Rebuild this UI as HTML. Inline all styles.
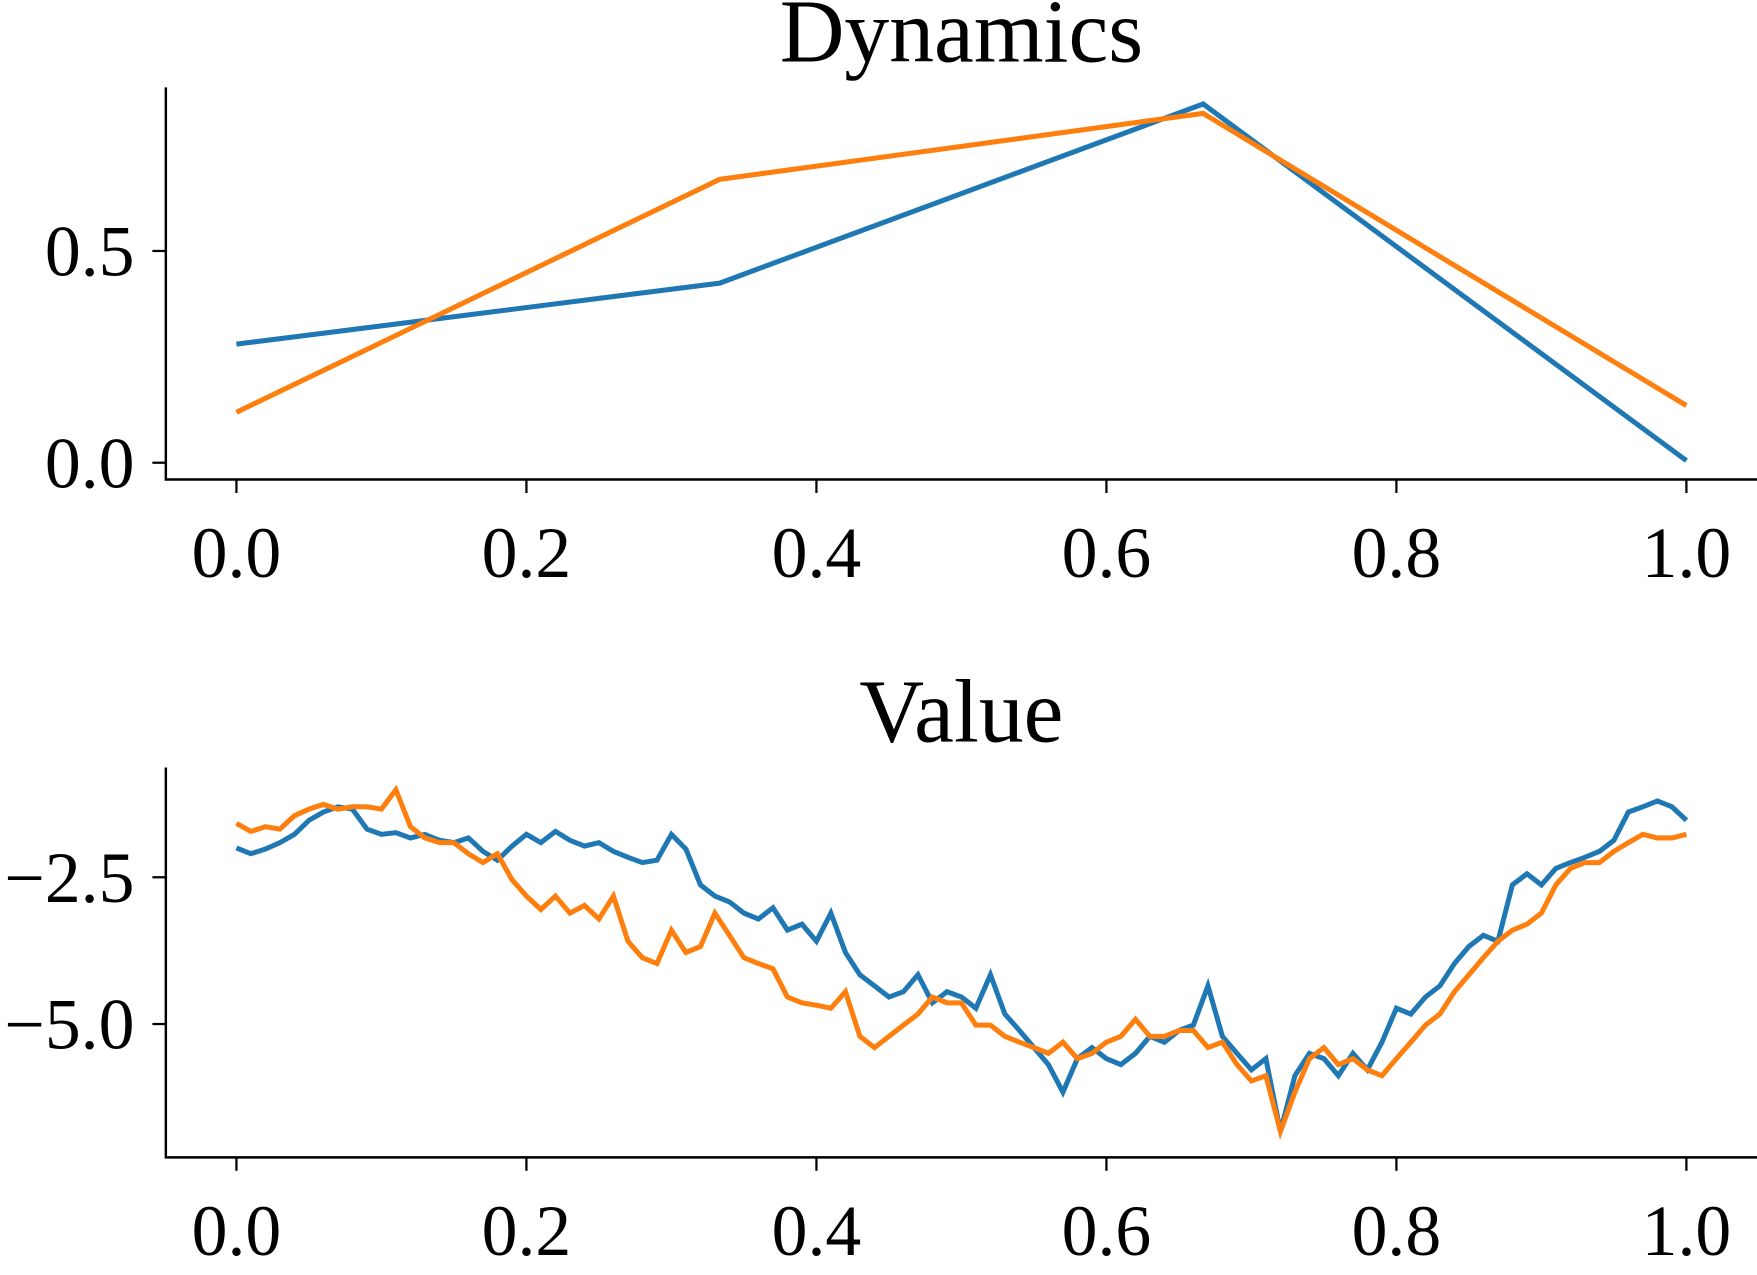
<!DOCTYPE html>
<html><head><meta charset="utf-8"><style>
html,body{margin:0;padding:0;background:#fff;}
svg{display:block;font-family:"Liberation Serif","DejaVu Serif",serif;}
</style></head><body>
<svg id="fig" width="1757" height="1275" viewBox="0 0 1568 1138" preserveAspectRatio="none" xmlns="http://www.w3.org/2000/svg">
<g id="top"></g>
<g id="bot"></g>
</svg>
<script>
const dynX = [0, 1/3, 2/3, 1];
const dynBlue = [0.28, 0.424, 0.847, 0.005];
const dynOrange = [0.119, 0.669, 0.825, 0.135];
const topXTicks = [0, 0.2, 0.4, 0.6, 0.8, 1.0];
const topXLabels = ["0.0","0.2","0.4","0.6","0.8","1.0"];
const topYTicks = [0, 0.5];
const topYLabels = ["0.0","0.5"];
const valBlue = [-2.00,-2.10,-2.02,-1.91,-1.77,-1.53,-1.39,-1.30,-1.34,-1.68,-1.77,-1.74,-1.83,-1.77,-1.87,-1.91,-1.83,-2.06,-2.21,-1.97,-1.77,-1.91,-1.72,-1.87,-1.97,-1.91,-2.06,-2.16,-2.25,-2.21,-1.77,-2.02,-2.63,-2.82,-2.92,-3.11,-3.21,-3.02,-3.40,-3.30,-3.59,-3.11,-3.78,-4.16,-4.35,-4.54,-4.45,-4.16,-4.64,-4.45,-4.54,-4.73,-4.16,-4.83,-5.11,-5.40,-5.69,-6.16,-5.59,-5.40,-5.59,-5.69,-5.50,-5.21,-5.31,-5.11,-5.02,-4.35,-5.21,-5.50,-5.78,-5.59,-6.83,-5.88,-5.50,-5.59,-5.88,-5.50,-5.78,-5.31,-4.73,-4.83,-4.54,-4.35,-3.97,-3.68,-3.49,-3.59,-2.63,-2.44,-2.63,-2.35,-2.25,-2.16,-2.06,-1.87,-1.39,-1.30,-1.20,-1.30,-1.53];
const valOrange = [-1.58,-1.72,-1.64,-1.68,-1.45,-1.34,-1.26,-1.34,-1.30,-1.30,-1.34,-1.01,-1.64,-1.83,-1.91,-1.91,-2.10,-2.25,-2.10,-2.54,-2.82,-3.05,-2.82,-3.11,-2.98,-3.21,-2.82,-3.59,-3.87,-3.97,-3.40,-3.78,-3.68,-3.11,-3.49,-3.87,-3.97,-4.06,-4.54,-4.64,-4.68,-4.73,-4.45,-5.21,-5.40,-5.21,-5.02,-4.83,-4.54,-4.64,-4.64,-5.02,-5.02,-5.21,-5.31,-5.40,-5.50,-5.31,-5.59,-5.50,-5.31,-5.21,-4.92,-5.21,-5.21,-5.11,-5.11,-5.40,-5.31,-5.69,-5.97,-5.88,-6.83,-6.16,-5.59,-5.40,-5.69,-5.59,-5.78,-5.88,-5.59,-5.31,-5.02,-4.83,-4.45,-4.16,-3.87,-3.59,-3.40,-3.30,-3.11,-2.63,-2.35,-2.25,-2.25,-2.06,-1.91,-1.77,-1.83,-1.83,-1.77];
const botYTicks = [-2.5, -5.0];
const botYLabels = ["\u22122.5","\u22125.0"];

const NS="http://www.w3.org/2000/svg";
function mk(parent, tag, attrs, text){
  const e=document.createElementNS(NS,tag);
  for(const k in attrs) e.setAttribute(k, attrs[k]);
  if(text!==undefined) e.textContent=text;
  parent.appendChild(e); return e;
}
const xs = t => 211 + t*1294;

function panel(g, opt){
  const t = mk(g,'text',{x:858,y:opt.titleY,'font-size':80,'text-anchor':'middle',fill:'#000'},opt.title);
  
  
  const sp = mk(g,'path',{d:`M148 ${opt.top} V${opt.bottom} H1568`,stroke:'#000','stroke-width':2.2,fill:'none'});
  
  
  topXTicks.forEach((v,i)=>{
    const x=xs(v);
    const tk = mk(g,'line',{x1:x,x2:x,y1:opt.bottom,y2:opt.bottom+12,stroke:'#000','stroke-width':2});
    
    
    const lb = mk(g,'text',{x:x,y:opt.bottom+87,'font-size':64,'text-anchor':'middle',fill:'#000'},topXLabels[i]);
    
    
  });
  opt.yTicks.forEach((v,i)=>{
    const y=opt.ys(v);
    const tk = mk(g,'line',{x1:136,x2:148,y1:y,y2:y,stroke:'#000','stroke-width':2});
    
    
    const lb = mk(g,'text',{x:120,y:y+22,'font-size':64,'text-anchor':'end',fill:'#000'},opt.yLabels[i]);
    
    
  });
  opt.series.forEach(s=>{
    const d = s.vals.map((v,i)=>(i?'L':'M')+xs(s.x(i)).toFixed(1)+' '+opt.ys(v).toFixed(1)).join(' ');
    const p = mk(g,'path',{d:d,stroke:s.color,'stroke-width':4.5,fill:'none','stroke-linejoin':'miter'});
    
    
  });
}
const ysTop = v => 413 - v*378;
const ysBot = v => 783 - (v+2.5)*52.4;
panel(document.getElementById('top'),{title:'Dynamics',titleName:'dynamics-title',titleY:55,top:78,bottom:428,ys:ysTop,yTicks:topYTicks,yLabels:topYLabels,
  series:[{vals:dynBlue,x:i=>dynX[i],color:'#1f77b4',name:'dynamics-blue-line'},{vals:dynOrange,x:i=>dynX[i],color:'#ff7f0e',name:'dynamics-orange-line'}]});
panel(document.getElementById('bot'),{title:'Value',titleName:'value-title',titleY:662,top:685,bottom:1033,ys:ysBot,yTicks:botYTicks,yLabels:botYLabels,
  series:[{vals:valBlue,x:i=>i/(valBlue.length-1),color:'#1f77b4',name:'value-blue-line'},{vals:valOrange,x:i=>i/(valOrange.length-1),color:'#ff7f0e',name:'value-orange-line'}]});
</script>
</body></html>
